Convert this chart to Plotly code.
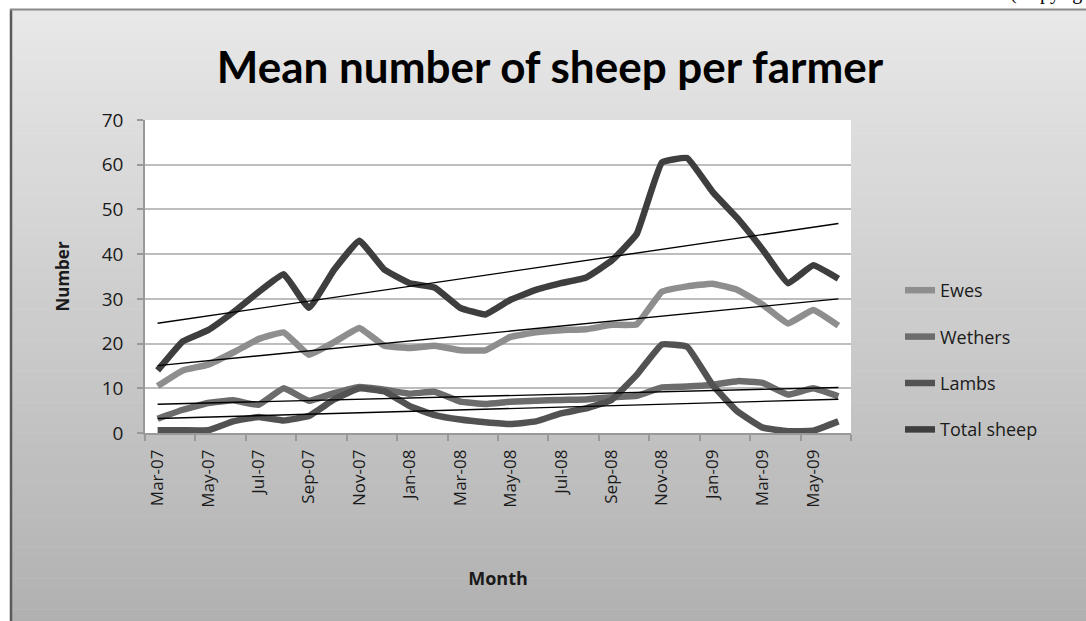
import numpy as np
import plotly.graph_objects as go

months = ["Mar-07", "Apr-07", "May-07", "Jun-07", "Jul-07", "Aug-07", "Sep-07", "Oct-07",
          "Nov-07", "Dec-07", "Jan-08", "Feb-08", "Mar-08", "Apr-08", "May-08", "Jun-08",
          "Jul-08", "Aug-08", "Sep-08", "Oct-08", "Nov-08", "Dec-08", "Jan-09", "Feb-09",
          "Mar-09", "Apr-09", "May-09", "Jun-09"]

ewes = [10.5, 14, 15.3, 18, 21, 22.5, 17.5, 20.3, 23.5, 19.5, 19, 19.5, 18.5, 18.5,
        21.5, 22.5, 23, 23.2, 24.2, 24.3, 31.6, 32.8, 33.4, 32, 28.7, 24.5, 27.5, 24]
wethers = [3.2, 5.2, 6.7, 7.3, 6.3, 10, 7.2, 8.9, 10.3, 9.7, 8.8, 9.2, 7, 6.5,
           7, 7.2, 7.4, 7.5, 8, 8.3, 10.2, 10.4, 10.8, 11.6, 11.2, 8.6, 10, 8.2]
lambs = [0.6, 0.6, 0.6, 2.6, 3.6, 2.8, 3.8, 7.5, 10, 9.3, 6, 4, 3, 2.4,
         2, 2.6, 4.4, 5.5, 7.4, 13, 19.8, 19.3, 10.8, 4.8, 1.2, 0.4, 0.5, 2.6]
total = [14, 20.5, 23, 27, 31.5, 35.5, 28, 36.5, 43, 36.5, 33.5, 32.5, 28, 26.5,
         29.8, 32, 33.5, 34.8, 38.5, 44.5, 60.5, 61.5, 54, 48, 41, 33.5, 37.5, 34.5]

series_names = ["Ewes", "Wethers", "Lambs", "Total sheep"]
series_values = [ewes, wethers, lambs, total]
series_colors = ["#8e8e8e", "#6c6c6c", "#525252", "#3e3e3e"]
y_ticks = [0, 10, 20, 30, 40, 50, 60, 70]

W, H = 1086, 621
L, R, T, B = 145, 851, 120, 433

def px(x):
    return (x - L) / (R - L)

def py(y):
    return (B - y) / (B - T)

fig = go.Figure()
idx = np.arange(len(months))

for name, vals, col in zip(series_names, series_values, series_colors):
    fig.add_trace(go.Scatter(
        x=months, y=vals, mode="lines", name=name,
        line=dict(color=col, width=6.5, shape="spline", smoothing=0.3),
        legendgroup=name,
    ))

for vals in series_values:
    slope, inter = np.polyfit(idx, np.array(vals, dtype=float), 1)
    fit = slope * idx + inter
    fig.add_trace(go.Scatter(
        x=[months[0], months[-1]], y=[fit[0], fit[-1]], mode="lines",
        line=dict(color="black", width=1.4), showlegend=False, hoverinfo="skip",
    ))

shapes = []
top_y, bot_y = 9, 630
n = 60
c_top, c_bot = 232, 176
for k in range(n):
    y0 = top_y + (bot_y - top_y) * k / n
    y1 = top_y + (bot_y - top_y) * (k + 1) / n + 0.5
    c = int(round(c_top + (c_bot - c_top) * (k + 0.5) / n))
    shapes.append(dict(type="rect", xref="paper", yref="paper",
                       x0=px(10), x1=px(1090), y0=py(y1), y1=py(y0),
                       fillcolor=f"rgb({c},{c},{c})", line=dict(width=0), layer="below"))
shapes.append(dict(type="line", xref="paper", yref="paper", x0=px(11), x1=px(11),
                   y0=py(9), y1=py(630), line=dict(color="#5a5a5a", width=2.5)))
shapes.append(dict(type="line", xref="paper", yref="paper", x0=px(10), x1=px(1090),
                   y0=py(9.5), y1=py(9.5), line=dict(color="#8a8a8a", width=2)))
shapes.append(dict(type="rect", xref="paper", yref="paper", x0=0, x1=1, y0=0, y1=1,
                   fillcolor="white", line=dict(width=0), layer="below"))

fig.update_layout(
    width=W, height=H,
    margin=dict(l=L, r=W - R, t=T, b=H - B, pad=0),
    paper_bgcolor="white", plot_bgcolor="white",
    shapes=shapes,
    title=dict(text="<b>Mean number of sheep per farmer</b>", x=550 / W, xanchor="center",
               y=1 - 68 / H, yanchor="middle",
               font=dict(family="Lato", size=44, color="black")),
    font=dict(family="Open Sans", color="#1a1a1a"),
    xaxis=dict(
        type="category", range=[-0.5, len(months) - 0.5],
        tickmode="linear", tick0=0, dtick=2, tickson="boundaries",
        ticks="outside", ticklen=6, tickcolor="#999", tickwidth=1.5,
        showline=True, linecolor="#999", linewidth=1.5,
        showgrid=False, tickangle=-90, ticklabelstandoff=8,
        tickfont=dict(family="Open Sans", size=17, color="#1a1a1a"),
        title=dict(text="<b>Month</b>", font=dict(family="Open Sans", size=18, color="#1a1a1a"),
                   standoff=66),
    ),
    yaxis=dict(
        range=[0, 70], tickvals=y_ticks, ticktext=[str(v) for v in y_ticks],
        ticks="outside", ticklen=6, tickcolor="#999", tickwidth=1.5,
        showline=True, linecolor="#999", linewidth=1.5,
        showgrid=True, gridcolor="#bdbdbd", gridwidth=1.5, zeroline=False,
        ticklabelstandoff=10,
        tickfont=dict(family="Open Sans", size=19, color="#1a1a1a"),
        title=dict(text="<b>Number</b>", font=dict(family="Open Sans", size=17, color="#1a1a1a"),
                   standoff=28),
    ),
    legend=dict(
        x=px(900), y=py(272), xanchor="left", yanchor="top",
        bgcolor="rgba(0,0,0,0)", font=dict(family="Open Sans", size=18, color="#1a1a1a"),
        tracegroupgap=20, itemwidth=30,
    ),
    annotations=[dict(text="(Copyright", xref="paper", yref="paper", x=px(1008), y=py(6),
                      xanchor="left", yanchor="bottom", showarrow=False,
                      font=dict(family="Liberation Serif", size=20, color="black"))],
)

fig.write_html("out.html")
